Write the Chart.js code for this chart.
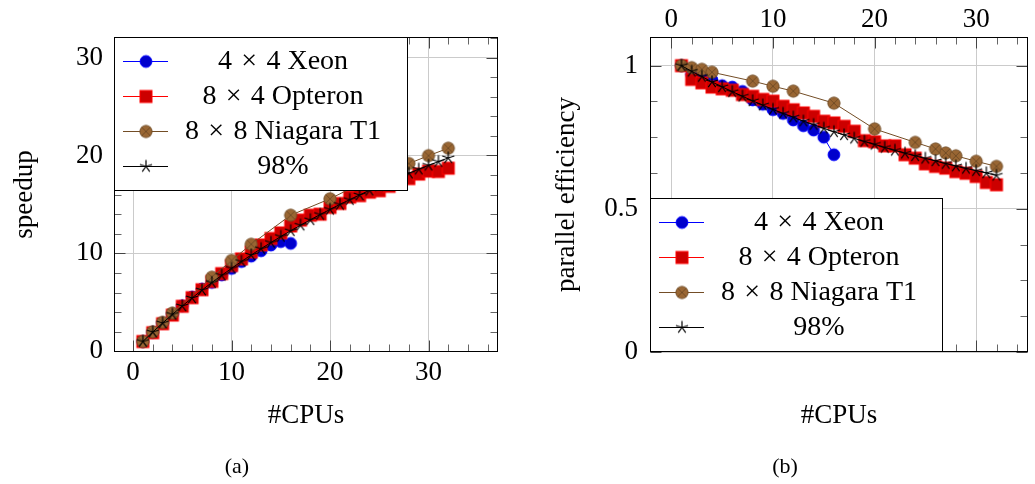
<!DOCTYPE html>
<html lang="en">
  <head>
    <meta charset="UTF-8" />
    <title>Speedup and parallel efficiency</title>
    <style>
      body { margin: 0; background: #fff; }
      #wrap {
        position: relative;
        width: 1035px;
        height: 484px;
        overflow: hidden;
        font-family: "Liberation Serif", "Times New Roman", serif;
      }
      canvas { position: absolute; top: 0; }
      #speedup_chart { left: 0; }
      #eff_chart { left: 517px; }
      .cap {
        position: absolute;
        top: 452px;
        width: 80px;
        margin-left: -40px;
        text-align: center;
        font-size: 22px;
        line-height: 28px;
      }
    </style>
  </head>
  <body>
    <div id="wrap">
      <canvas id="speedup_chart" width="517" height="484"></canvas>
      <canvas id="eff_chart" width="518" height="484"></canvas>
      <div class="cap" style="left: 237px">(a)</div>
      <div class="cap" style="left: 785px">(b)</div>
    </div>

    <script src="https://cdn.jsdelivr.net/npm/chart.js@4.4.1/dist/chart.umd.min.js"></script>
    <script>
      // categories (number of CPUs per machine)
      const cpus = [1, 2, 3, 4, 5, 6, 7, 8, 9, 10, 11, 12, 13, 14, 15, 16,
        17, 18, 19, 20, 21, 22, 23, 24, 25, 26, 27, 28, 29, 30, 31, 32];
      const xeonCpus = [1, 2, 3, 4, 5, 6, 7, 8, 9, 10, 11, 12, 13, 14, 15, 16];
      const niagaraCpus = [1, 2, 3, 4, 8, 10, 12, 16, 20, 24, 26, 27, 28, 30, 32];

      // slightly wider spaces round the times sign, like TeX's math spacing
      const seriesNames = ["4\u2004×\u20044 Xeon", "8\u2004×\u20044 Opteron", "8\u2004×\u20048 Niagara T1", "98%"];

      // (a) speedup
      const xeonSpeedup = [1.0, 1.94, 2.88, 3.8, 4.65, 5.55, 6.37, 7.04, 7.79, 8.46,
        9.16, 9.72, 10.27, 10.85, 11.2, 11.02];
      const opteronSpeedup = [1.0, 1.9, 2.82, 3.7, 4.6, 5.48, 6.29, 7.14, 7.94, 8.76,
        9.44, 10.15, 10.86, 11.52, 12.09, 12.8, 13.4, 13.9, 14.0, 14.7, 15.1, 15.75,
        15.9, 16.25, 16.4, 16.85, 17.3, 17.64, 18.1, 18.4, 18.37, 18.7];
      const niagaraSpeedup = [1.0, 1.99, 2.96, 3.91, 7.57, 9.28, 10.93, 13.9, 15.58,
        17.57, 18.43, 18.77, 19.18, 19.98, 20.74];
      const refSpeedup = [1.0, 1.96, 2.88, 3.77, 4.63, 5.45, 6.25, 7.02, 7.76, 8.47,
        9.17, 9.84, 10.48, 11.11, 11.72, 12.31, 12.88, 13.43, 13.97, 14.49, 15.0,
        15.49, 15.97, 16.44, 16.89, 17.33, 17.76, 18.18, 18.59, 18.99, 19.37, 19.75];

      // (b) parallel efficiency
      const xeonEff = [1.0, 0.97, 0.96, 0.95, 0.93, 0.925, 0.91, 0.88, 0.865, 0.846,
        0.833, 0.81, 0.79, 0.775, 0.75, 0.689];
      const opteronEff = [1.0, 0.952, 0.94, 0.925, 0.919, 0.914, 0.899, 0.893, 0.882,
        0.876, 0.858, 0.846, 0.835, 0.823, 0.806, 0.8, 0.788, 0.771, 0.738, 0.734,
        0.72, 0.72, 0.689, 0.677, 0.657, 0.648, 0.642, 0.63, 0.624, 0.613, 0.592, 0.584];
      const niagaraEff = [1.0, 0.993, 0.987, 0.977, 0.946, 0.928, 0.911, 0.869, 0.779,
        0.732, 0.709, 0.695, 0.685, 0.666, 0.648];
      const refEff = [1.0, 0.98, 0.962, 0.943, 0.926, 0.909, 0.893, 0.877, 0.862, 0.847,
        0.833, 0.82, 0.806, 0.794, 0.781, 0.769, 0.758, 0.746, 0.735, 0.725, 0.714,
        0.704, 0.694, 0.685, 0.676, 0.667, 0.658, 0.649, 0.641, 0.633, 0.625, 0.617];

      // tick labels
      const cpuTicks = [0, 10, 20, 30];
      const cpuMinorA = [2, 4, 6, 8, 12, 14, 16, 18, 22, 24, 26, 28, 32, 34, 36];
      const cpuMinorB = [2, 4, 6, 8, 12, 14, 16, 18, 22, 24, 26, 28, 32, 34];
      const speedupTicks = [0, 10, 20, 30];
      const speedupMinor = [2, 4, 6, 8, 12, 14, 16, 18, 22, 24, 26, 28, 32];
      const effTicks = [0, 0.5, 1];
      const effMinor = [0.125, 0.25, 0.375, 0.625, 0.75, 0.875];

      const FAMILY = "'Liberation Serif', 'Times New Roman', serif";
      const font = { family: FAMILY, size: 27 };
      const GRID = "#cbcbcb";

      function pts(xs, ys) {
        return xs.map((x, i) => ({ x: x, y: ys[i] }));
      }

      // pgfplots-like marks: *, square*, otimes*, star
      function makeMark(kind) {
        const c = document.createElement("canvas");
        c.width = 18;
        c.height = 18;
        const ctx = c.getContext("2d");
        ctx.translate(9, 9);
        ctx.lineWidth = 1;
        if (kind == "circle") {
          ctx.beginPath();
          ctx.arc(0, 0, 5.9, 0, 2 * Math.PI);
          ctx.fillStyle = "#0000cc";
          ctx.fill();
          ctx.strokeStyle = "#0000ff";
          ctx.stroke();
        } else if (kind == "square") {
          ctx.fillStyle = "#cc0000";
          ctx.fillRect(-6, -6, 12, 12);
          ctx.strokeStyle = "#ff0000";
          ctx.strokeRect(-6, -6, 12, 12);
        } else if (kind == "otimes") {
          ctx.beginPath();
          ctx.arc(0, 0, 6.1, 0, 2 * Math.PI);
          ctx.fillStyle = "#996633";
          ctx.fill();
          ctx.strokeStyle = "#734d26";
          ctx.stroke();
          const d = 4.3;
          ctx.beginPath();
          ctx.moveTo(-d, -d);
          ctx.lineTo(d, d);
          ctx.moveTo(-d, d);
          ctx.lineTo(d, -d);
          ctx.stroke();
        } else {
          ctx.strokeStyle = "#000";
          ctx.lineWidth = 1.2;
          ctx.beginPath();
          for (let k = 0; k < 5; k++) {
            const a = -Math.PI / 2 + (k * 2 * Math.PI) / 5;
            ctx.moveTo(0, 0);
            ctx.lineTo(6.4 * Math.cos(a), 6.4 * Math.sin(a));
          }
          ctx.stroke();
        }
        return c;
      }

      const marks = [makeMark("circle"), makeMark("square"), makeMark("otimes"), makeMark("star")];
      const lineColors = ["#0000ff", "#ff0000", "#734d26", "#000000"];

      function buildDatasets(xeon, opteron, niagara, ref) {
        const sets = [pts(xeonCpus, xeon), pts(cpus, opteron), pts(niagaraCpus, niagara), pts(cpus, ref)];
        return sets.map((data, i) => ({
          label: seriesNames[i],
          data: data,
          borderColor: lineColors[i],
          borderWidth: 1,
          pointStyle: marks[i],
          pointRadius: 6,
          fill: false,
          tension: 0,
          order: 3 - i,
        }));
      }

      function fixedTicks(values) {
        return (scale) => {
          scale.ticks = values.map((v) => ({ value: v }));
        };
      }

      // inward ticks, axis frame and the boxed legend
      const decor = {
        id: "decor",
        afterDatasetsDraw(chart, args, opts) {
          const ctx = chart.ctx;
          const a = chart.chartArea;
          const xs = chart.scales.x;
          const ys = chart.scales.y;
          const L = Math.round(a.left) + 0.5;
          const R = Math.round(a.right) - 0.5;
          const T = Math.round(a.top) + 0.5;
          const B = Math.round(a.bottom) - 0.5;
          ctx.save();
          ctx.lineWidth = 1;
          ctx.strokeStyle = "#666";
          ctx.beginPath();
          opts.xMinor.forEach((v) => {
            const p = Math.round(xs.getPixelForValue(v)) + 0.5;
            ctx.moveTo(p, T);
            ctx.lineTo(p, T + 7);
            ctx.moveTo(p, B);
            ctx.lineTo(p, B - 7);
          });
          opts.yMinor.forEach((v) => {
            const p = Math.round(ys.getPixelForValue(v)) + 0.5;
            ctx.moveTo(L, p);
            ctx.lineTo(L + 7, p);
            ctx.moveTo(R, p);
            ctx.lineTo(R - 7, p);
          });
          ctx.stroke();
          ctx.strokeStyle = "#444";
          ctx.beginPath();
          opts.xMajor.forEach((v) => {
            const p = Math.round(xs.getPixelForValue(v)) + 0.5;
            ctx.moveTo(p, T);
            ctx.lineTo(p, T + 11);
            ctx.moveTo(p, B);
            ctx.lineTo(p, B - 11);
          });
          opts.yMajor.forEach((v) => {
            const p = Math.round(ys.getPixelForValue(v)) + 0.5;
            ctx.moveTo(L, p);
            ctx.lineTo(L + 11, p);
            ctx.moveTo(R, p);
            ctx.lineTo(R - 11, p);
          });
          ctx.stroke();
          ctx.strokeStyle = "#000";
          ctx.strokeRect(L, T, R - L, B - T);

          // legend
          const box = opts.legend;
          ctx.fillStyle = "#fff";
          ctx.fillRect(box.left, box.top, box.width, box.height);
          ctx.strokeRect(box.left + 0.5, box.top + 0.5, box.width - 1, box.height - 1);
          ctx.font = "28px " + FAMILY;
          ctx.textAlign = "center";
          ctx.textBaseline = "middle";
          chart.data.datasets.forEach((ds, i) => {
            const cy = Math.round(box.top + 23.5 + i * 35.3);
            ctx.strokeStyle = ds.borderColor;
            ctx.beginPath();
            ctx.moveTo(box.left + 9, cy + 0.5);
            ctx.lineTo(box.left + 54, cy + 0.5);
            ctx.stroke();
            ctx.drawImage(ds.pointStyle, box.left + 32 - 9, cy - 9 + 0.5);
            ctx.fillStyle = "#000";
            ctx.fillText(ds.label, box.left + 169, cy + 1);
          });
          ctx.restore();
        },
      };

      const tickOpts = {
        font: font,
        color: "#000",
        autoSkip: false,
        maxRotation: 0,
        callback: (v) => String(v),
      };

      new Chart(document.getElementById("speedup_chart"), {
        type: "line",
        data: { datasets: buildDatasets(xeonSpeedup, opteronSpeedup, niagaraSpeedup, refSpeedup) },
        options: {
          responsive: false,
          animation: false,
          layout: { padding: { top: 37, right: 19, bottom: 52, left: 0 } },
          plugins: {
            legend: { display: false },
            tooltip: { enabled: false },
            decor: {
              xMajor: cpuTicks,
              xMinor: cpuMinorA,
              yMajor: speedupTicks,
              yMinor: speedupMinor,
              legend: { left: 114, top: 37, width: 294, height: 154 },
            },
          },
          scales: {
            x: {
              type: "linear",
              min: -1.93,
              max: 37.05,
              afterBuildTicks: fixedTicks(cpuTicks),
              afterFit: (s) => { s.height = 80; },
              grid: { color: GRID, drawTicks: false },
              border: { display: false },
              ticks: Object.assign({ padding: 5 }, tickOpts),
              title: { display: true, text: "#CPUs", font: font, color: "#000", padding: 0 },
            },
            y: {
              type: "linear",
              min: -0.07,
              max: 32.1,
              afterBuildTicks: fixedTicks(speedupTicks),
              afterFit: (s) => { s.width = 114; },
              grid: { color: GRID, drawTicks: false },
              border: { display: false },
              ticks: Object.assign({ padding: 11 }, tickOpts),
              title: { display: true, text: "speedup", font: font, color: "#000", padding: { top: 9, bottom: 0 } },
            },
          },
        },
        plugins: [decor],
      });

      new Chart(document.getElementById("eff_chart"), {
        type: "line",
        data: { datasets: buildDatasets(xeonEff, opteronEff, niagaraEff, refEff) },
        options: {
          responsive: false,
          animation: false,
          layout: { padding: { top: 0, right: 2, bottom: 52, left: 0 } },
          plugins: {
            legend: { display: false },
            tooltip: { enabled: false },
            decor: {
              xMajor: cpuTicks,
              xMinor: cpuMinorB,
              yMajor: effTicks,
              yMinor: effMinor,
              legend: { left: 133, top: 198, width: 293, height: 154 },
            },
          },
          scales: {
            x: {
              type: "linear",
              position: "top",
              min: -2.1,
              max: 35.1,
              afterBuildTicks: fixedTicks(cpuTicks),
              afterFit: (s) => { s.height = 37; },
              grid: { color: GRID, drawTicks: false },
              border: { display: false },
              ticks: Object.assign({ padding: 1 }, tickOpts),
            },
            x2: {
              type: "linear",
              position: "bottom",
              min: -2.1,
              max: 35.1,
              afterFit: (s) => { s.height = 80; },
              grid: { display: false },
              border: { display: false },
              ticks: { display: false },
              title: { display: true, text: "#CPUs", font: font, color: "#000", padding: 0 },
            },
            y: {
              type: "linear",
              min: 0,
              max: 1.1,
              afterBuildTicks: fixedTicks(effTicks),
              afterFit: (s) => { s.width = 133; },
              grid: { color: GRID, drawTicks: false },
              border: { display: false },
              ticks: Object.assign({ padding: 12 }, tickOpts),
              title: {
                display: true,
                text: "parallel efficiency",
                font: font,
                color: "#000",
                padding: { top: 34, bottom: 0 },
              },
            },
          },
        },
        plugins: [decor],
      });
    </script>
  </body>
</html>
